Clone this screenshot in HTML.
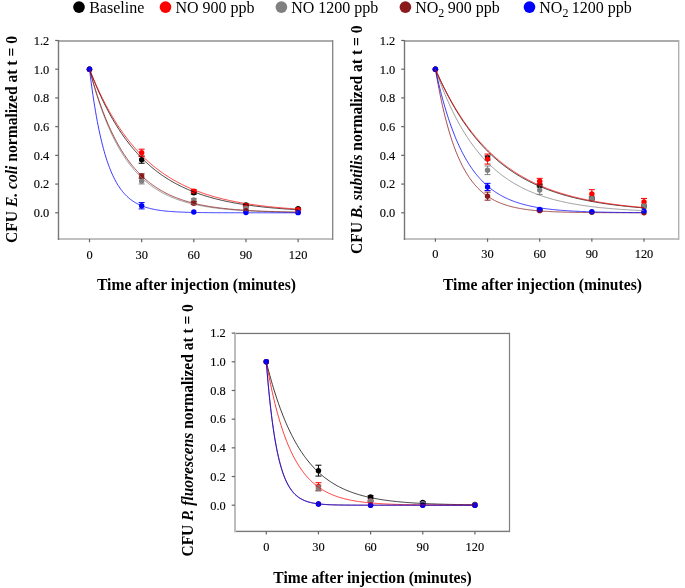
<!DOCTYPE html>
<html><head><meta charset="utf-8"><style>
html,body{margin:0;padding:0;background:#fff;}
body{width:685px;height:588px;overflow:hidden;}
svg{display:block;will-change:transform;}
text{font-family:"Liberation Serif",serif;fill:#000;}
.lg{font-size:16px;}
.tk{font-size:13.5px;fill:#000;stroke:#000;stroke-width:0.15px;}
.ti{font-size:16px;font-weight:bold;}
</style></head><body>
<svg width="685" height="588" viewBox="0 0 685 588">
<circle cx="79" cy="7.1" r="5.85" fill="#000000"/>
<text x="89.2" y="12.6" class="lg">Baseline</text>
<circle cx="165.5" cy="7.1" r="5.85" fill="#ff0000"/>
<text x="175.4" y="12.6" class="lg">NO 900 ppb</text>
<circle cx="281.4" cy="7.1" r="5.85" fill="#808080"/>
<text x="291.2" y="12.6" class="lg">NO 1200 ppb</text>
<circle cx="405.4" cy="7.1" r="5.85" fill="#8b1a1a"/>
<text x="415.2" y="12.6" class="lg">NO<tspan dy="4.2" font-size="12">2</tspan><tspan dy="-4.2" dx="-0.6"> 900 ppb</tspan></text>
<circle cx="529.5" cy="7.1" r="5.85" fill="#0000ff"/>
<text x="539.3" y="12.6" class="lg">NO<tspan dy="4.2" font-size="12">2</tspan><tspan dy="-4.2" dx="-0.6"> 1200 ppb</tspan></text>
<rect x="57.8" y="40" width="276" height="2" fill="#acacac"/>
<rect x="57.8" y="238" width="276" height="2" fill="#c0c0c0"/>
<rect x="57.8" y="40" width="1.4" height="200" fill="#787878"/>
<rect x="332" y="40" width="1" height="200" fill="#888"/>
<rect x="333" y="40" width="1" height="200" fill="#d4d4d4"/>
<line x1="55.20" y1="212.80" x2="58.50" y2="212.80" stroke="#666" stroke-width="1.2"/>
<text transform="translate(49.30,217.10) scale(0.92,1)" class="tk" text-anchor="end">0.0</text>
<line x1="55.20" y1="184.08" x2="58.50" y2="184.08" stroke="#666" stroke-width="1.2"/>
<text transform="translate(49.30,188.38) scale(0.92,1)" class="tk" text-anchor="end">0.2</text>
<line x1="55.20" y1="155.36" x2="58.50" y2="155.36" stroke="#666" stroke-width="1.2"/>
<text transform="translate(49.30,159.66) scale(0.92,1)" class="tk" text-anchor="end">0.4</text>
<line x1="55.20" y1="126.64" x2="58.50" y2="126.64" stroke="#666" stroke-width="1.2"/>
<text transform="translate(49.30,130.94) scale(0.92,1)" class="tk" text-anchor="end">0.6</text>
<line x1="55.20" y1="97.92" x2="58.50" y2="97.92" stroke="#666" stroke-width="1.2"/>
<text transform="translate(49.30,102.22) scale(0.92,1)" class="tk" text-anchor="end">0.8</text>
<line x1="55.20" y1="69.20" x2="58.50" y2="69.20" stroke="#666" stroke-width="1.2"/>
<text transform="translate(49.30,73.50) scale(0.92,1)" class="tk" text-anchor="end">1.0</text>
<line x1="55.20" y1="40.48" x2="58.50" y2="40.48" stroke="#666" stroke-width="1.2"/>
<text transform="translate(49.30,44.78) scale(0.92,1)" class="tk" text-anchor="end">1.2</text>
<line x1="89.50" y1="239.00" x2="89.50" y2="242.30" stroke="#666" stroke-width="1.2"/>
<text transform="translate(89.50,258.90) scale(0.92,1)" class="tk" text-anchor="middle">0</text>
<line x1="141.65" y1="239.00" x2="141.65" y2="242.30" stroke="#666" stroke-width="1.2"/>
<text transform="translate(141.65,258.90) scale(0.92,1)" class="tk" text-anchor="middle">30</text>
<line x1="193.80" y1="239.00" x2="193.80" y2="242.30" stroke="#666" stroke-width="1.2"/>
<text transform="translate(193.80,258.90) scale(0.92,1)" class="tk" text-anchor="middle">60</text>
<line x1="245.95" y1="239.00" x2="245.95" y2="242.30" stroke="#666" stroke-width="1.2"/>
<text transform="translate(245.95,258.90) scale(0.92,1)" class="tk" text-anchor="middle">90</text>
<line x1="298.10" y1="239.00" x2="298.10" y2="242.30" stroke="#666" stroke-width="1.2"/>
<text transform="translate(298.10,258.90) scale(0.92,1)" class="tk" text-anchor="middle">120</text>
<text x="97.0" y="289.9" class="ti" textLength="198.9" lengthAdjust="spacingAndGlyphs">Time after injection (minutes)</text>
<text transform="translate(16.6,243.0) rotate(-90)" class="ti" textLength="207.0" lengthAdjust="spacingAndGlyphs">CFU <tspan font-style="italic">E. coli</tspan> normalized at t = 0</text>
<path d="M141.65 156.08V163.26M138.65 156.08H144.65M138.65 163.26H144.65" stroke="#000000" stroke-width="1" fill="none"/>
<circle cx="141.65" cy="159.67" r="2.7" fill="#000000"/>
<path d="M193.80 191.26V194.13M190.80 191.26H196.80M190.80 194.13H196.80" stroke="#000000" stroke-width="1" fill="none"/>
<circle cx="193.80" cy="192.70" r="2.7" fill="#000000"/>
<path d="M245.95 204.04V205.76M242.95 204.04H248.95M242.95 205.76H248.95" stroke="#000000" stroke-width="1" fill="none"/>
<circle cx="245.95" cy="204.90" r="2.7" fill="#000000"/>
<path d="M298.10 208.06V209.50M295.10 208.06H301.10M295.10 209.50H301.10" stroke="#000000" stroke-width="1" fill="none"/>
<circle cx="298.10" cy="208.78" r="2.7" fill="#000000"/>
<path d="M141.65 149.19V156.37M138.65 149.19H144.65M138.65 156.37H144.65" stroke="#ff0000" stroke-width="1" fill="none"/>
<circle cx="141.65" cy="152.78" r="2.7" fill="#ff0000"/>
<path d="M193.80 189.68V192.55M190.80 189.68H196.80M190.80 192.55H196.80" stroke="#ff0000" stroke-width="1" fill="none"/>
<circle cx="193.80" cy="191.12" r="2.7" fill="#ff0000"/>
<path d="M245.95 205.33V207.06M242.95 205.33H248.95M242.95 207.06H248.95" stroke="#ff0000" stroke-width="1" fill="none"/>
<circle cx="245.95" cy="206.19" r="2.7" fill="#ff0000"/>
<path d="M298.10 208.92V210.36M295.10 208.92H301.10M295.10 210.36H301.10" stroke="#ff0000" stroke-width="1" fill="none"/>
<circle cx="298.10" cy="209.64" r="2.7" fill="#ff0000"/>
<path d="M141.65 178.19V183.94M138.65 178.19H144.65M138.65 183.94H144.65" stroke="#808080" stroke-width="1" fill="none"/>
<circle cx="141.65" cy="181.06" r="2.7" fill="#808080"/>
<path d="M193.80 198.58V201.46M190.80 198.58H196.80M190.80 201.46H196.80" stroke="#808080" stroke-width="1" fill="none"/>
<circle cx="193.80" cy="200.02" r="2.7" fill="#808080"/>
<path d="M245.95 207.34V209.07M242.95 207.34H248.95M242.95 209.07H248.95" stroke="#808080" stroke-width="1" fill="none"/>
<circle cx="245.95" cy="208.20" r="2.7" fill="#808080"/>
<circle cx="298.10" cy="212.08" r="2.7" fill="#808080"/>
<path d="M141.65 173.88V178.19M138.65 173.88H144.65M138.65 178.19H144.65" stroke="#8b1a1a" stroke-width="1" fill="none"/>
<circle cx="141.65" cy="176.04" r="2.7" fill="#8b1a1a"/>
<path d="M193.80 201.74V204.61M190.80 201.74H196.80M190.80 204.61H196.80" stroke="#8b1a1a" stroke-width="1" fill="none"/>
<circle cx="193.80" cy="203.18" r="2.7" fill="#8b1a1a"/>
<circle cx="245.95" cy="210.65" r="2.7" fill="#8b1a1a"/>
<circle cx="298.10" cy="212.37" r="2.7" fill="#8b1a1a"/>
<path d="M141.65 202.60V208.92M138.65 202.60H144.65M138.65 208.92H144.65" stroke="#0000ff" stroke-width="1" fill="none"/>
<circle cx="141.65" cy="205.76" r="2.7" fill="#0000ff"/>
<circle cx="193.80" cy="211.94" r="2.7" fill="#0000ff"/>
<circle cx="245.95" cy="212.51" r="2.7" fill="#0000ff"/>
<circle cx="298.10" cy="212.66" r="2.7" fill="#0000ff"/>
<circle cx="89.50" cy="69.20" r="2.7" fill="#000000"/>
<circle cx="89.50" cy="69.20" r="2.7" fill="#ff0000"/>
<circle cx="89.50" cy="69.20" r="2.7" fill="#808080"/>
<circle cx="89.50" cy="69.20" r="2.7" fill="#8b1a1a"/>
<circle cx="89.50" cy="69.20" r="2.7" fill="#0000ff"/>
<polyline points="89.50,69.20 90.37,72.54 91.24,75.79 92.11,78.98 92.98,82.08 93.85,85.12 94.72,88.08 95.58,90.98 96.45,93.81 97.32,96.57 98.19,99.27 99.06,101.91 99.93,104.49 100.80,107.00 101.67,109.46 102.54,111.86 103.41,114.20 104.28,116.49 105.14,118.73 106.01,120.92 106.88,123.05 107.75,125.13 108.62,127.17 109.49,129.16 110.36,131.10 111.23,133.00 112.10,134.85 112.97,136.66 113.84,138.43 114.71,140.16 115.58,141.85 116.44,143.49 117.31,145.10 118.18,146.68 119.05,148.21 119.92,149.71 120.79,151.18 121.66,152.61 122.53,154.01 123.40,155.37 124.27,156.71 125.14,158.01 126.00,159.28 126.87,160.52 127.74,161.74 128.61,162.92 129.48,164.08 130.35,165.21 131.22,166.32 132.09,167.40 132.96,168.45 133.83,169.48 134.70,170.49 135.57,171.47 136.44,172.43 137.30,173.37 138.17,174.29 139.04,175.18 139.91,176.05 140.78,176.91 141.65,177.74 142.52,178.56 143.39,179.35 144.26,180.13 145.13,180.89 146.00,181.63 146.87,182.35 147.73,183.06 148.60,183.75 149.47,184.42 150.34,185.08 151.21,185.73 152.08,186.36 152.95,186.97 153.82,187.57 154.69,188.16 155.56,188.73 156.43,189.29 157.30,189.83 158.16,190.37 159.03,190.89 159.90,191.40 160.77,191.89 161.64,192.38 162.51,192.85 163.38,193.32 164.25,193.77 165.12,194.21 165.99,194.64 166.86,195.07 167.72,195.48 168.59,195.88 169.46,196.27 170.33,196.66 171.20,197.03 172.07,197.40 172.94,197.76 173.81,198.10 174.68,198.45 175.55,198.78 176.42,199.10 177.29,199.42 178.16,199.73 179.02,200.04 179.89,200.33 180.76,200.62 181.63,200.91 182.50,201.18 183.37,201.45 184.24,201.72 185.11,201.97 185.98,202.22 186.85,202.47 187.72,202.71 188.58,202.94 189.45,203.17 190.32,203.40 191.19,203.62 192.06,203.83 192.93,204.04 193.80,204.24 194.67,204.44 195.54,204.63 196.41,204.82 197.28,205.01 198.15,205.19 199.01,205.37 199.88,205.54 200.75,205.71 201.62,205.87 202.49,206.03 203.36,206.19 204.23,206.34 205.10,206.49 205.97,206.64 206.84,206.78 207.71,206.92 208.58,207.06 209.44,207.19 210.31,207.32 211.18,207.45 212.05,207.57 212.92,207.70 213.79,207.81 214.66,207.93 215.53,208.04 216.40,208.15 217.27,208.26 218.14,208.37 219.01,208.47 219.88,208.57 220.74,208.67 221.61,208.76 222.48,208.86 223.35,208.95 224.22,209.04 225.09,209.13 225.96,209.21 226.83,209.30 227.70,209.38 228.57,209.46 229.44,209.53 230.31,209.61 231.17,209.68 232.04,209.76 232.91,209.83 233.78,209.90 234.65,209.96 235.52,210.03 236.39,210.09 237.26,210.16 238.13,210.22 239.00,210.28 239.87,210.34 240.73,210.39 241.60,210.45 242.47,210.50 243.34,210.56 244.21,210.61 245.08,210.66 245.95,210.71 246.82,210.76 247.69,210.81 248.56,210.85 249.43,210.90 250.30,210.94 251.16,210.99 252.03,211.03 252.90,211.07 253.77,211.11 254.64,211.15 255.51,211.19 256.38,211.22 257.25,211.26 258.12,211.30 258.99,211.33 259.86,211.37 260.73,211.40 261.60,211.43 262.46,211.46 263.33,211.49 264.20,211.52 265.07,211.55 265.94,211.58 266.81,211.61 267.68,211.64 268.55,211.67 269.42,211.69 270.29,211.72 271.16,211.74 272.02,211.77 272.89,211.79 273.76,211.81 274.63,211.84 275.50,211.86 276.37,211.88 277.24,211.90 278.11,211.92 278.98,211.94 279.85,211.96 280.72,211.98 281.59,212.00 282.45,212.02 283.32,212.04 284.19,212.06 285.06,212.07 285.93,212.09 286.80,212.11 287.67,212.12 288.54,212.14 289.41,212.15 290.28,212.17 291.15,212.18 292.02,212.20 292.88,212.21 293.75,212.23 294.62,212.24 295.49,212.25 296.36,212.27 297.23,212.28 298.10,212.29" fill="none" stroke="#808080" stroke-width="0.78"/>
<polyline points="89.50,69.20 90.37,72.41 91.24,75.55 92.11,78.61 92.98,81.61 93.85,84.54 94.72,87.41 95.58,90.21 96.45,92.95 97.32,95.63 98.19,98.25 99.06,100.81 99.93,103.31 100.80,105.76 101.67,108.15 102.54,110.49 103.41,112.77 104.28,115.01 105.14,117.19 106.01,119.33 106.88,121.42 107.75,123.46 108.62,125.46 109.49,127.41 110.36,129.32 111.23,131.18 112.10,133.01 112.97,134.79 113.84,136.53 114.71,138.24 115.58,139.90 116.44,141.53 117.31,143.13 118.18,144.68 119.05,146.20 119.92,147.69 120.79,149.15 121.66,150.57 122.53,151.96 123.40,153.32 124.27,154.65 125.14,155.95 126.00,157.22 126.87,158.46 127.74,159.68 128.61,160.86 129.48,162.02 130.35,163.16 131.22,164.27 132.09,165.35 132.96,166.41 133.83,167.45 134.70,168.46 135.57,169.45 136.44,170.42 137.30,171.37 138.17,172.29 139.04,173.20 139.91,174.08 140.78,174.95 141.65,175.80 142.52,176.62 143.39,177.43 144.26,178.22 145.13,178.99 146.00,179.75 146.87,180.49 147.73,181.21 148.60,181.92 149.47,182.61 150.34,183.28 151.21,183.94 152.08,184.59 152.95,185.22 153.82,185.83 154.69,186.44 155.56,187.02 156.43,187.60 157.30,188.16 158.16,188.71 159.03,189.25 159.90,189.78 160.77,190.29 161.64,190.80 162.51,191.29 163.38,191.77 164.25,192.24 165.12,192.70 165.99,193.15 166.86,193.59 167.72,194.02 168.59,194.44 169.46,194.85 170.33,195.25 171.20,195.64 172.07,196.02 172.94,196.40 173.81,196.76 174.68,197.12 175.55,197.47 176.42,197.82 177.29,198.15 178.16,198.48 179.02,198.80 179.89,199.11 180.76,199.42 181.63,199.72 182.50,200.01 183.37,200.29 184.24,200.57 185.11,200.85 185.98,201.11 186.85,201.37 187.72,201.63 188.58,201.88 189.45,202.12 190.32,202.36 191.19,202.60 192.06,202.82 192.93,203.05 193.80,203.26 194.67,203.48 195.54,203.69 196.41,203.89 197.28,204.09 198.15,204.28 199.01,204.47 199.88,204.66 200.75,204.84 201.62,205.02 202.49,205.19 203.36,205.36 204.23,205.53 205.10,205.69 205.97,205.85 206.84,206.01 207.71,206.16 208.58,206.31 209.44,206.45 210.31,206.59 211.18,206.73 212.05,206.87 212.92,207.00 213.79,207.13 214.66,207.26 215.53,207.38 216.40,207.50 217.27,207.62 218.14,207.74 219.01,207.85 219.88,207.96 220.74,208.07 221.61,208.17 222.48,208.28 223.35,208.38 224.22,208.48 225.09,208.57 225.96,208.67 226.83,208.76 227.70,208.85 228.57,208.94 229.44,209.02 230.31,209.11 231.17,209.19 232.04,209.27 232.91,209.35 233.78,209.43 234.65,209.50 235.52,209.58 236.39,209.65 237.26,209.72 238.13,209.79 239.00,209.86 239.87,209.92 240.73,209.99 241.60,210.05 242.47,210.11 243.34,210.17 244.21,210.23 245.08,210.29 245.95,210.34 246.82,210.40 247.69,210.45 248.56,210.50 249.43,210.56 250.30,210.61 251.16,210.65 252.03,210.70 252.90,210.75 253.77,210.80 254.64,210.84 255.51,210.88 256.38,210.93 257.25,210.97 258.12,211.01 258.99,211.05 259.86,211.09 260.73,211.13 261.60,211.16 262.46,211.20 263.33,211.24 264.20,211.27 265.07,211.31 265.94,211.34 266.81,211.37 267.68,211.40 268.55,211.43 269.42,211.47 270.29,211.49 271.16,211.52 272.02,211.55 272.89,211.58 273.76,211.61 274.63,211.63 275.50,211.66 276.37,211.69 277.24,211.71 278.11,211.74 278.98,211.76 279.85,211.78 280.72,211.80 281.59,211.83 282.45,211.85 283.32,211.87 284.19,211.89 285.06,211.91 285.93,211.93 286.80,211.95 287.67,211.97 288.54,211.99 289.41,212.01 290.28,212.02 291.15,212.04 292.02,212.06 292.88,212.07 293.75,212.09 294.62,212.11 295.49,212.12 296.36,212.14 297.23,212.15 298.10,212.17" fill="none" stroke="#8b1a1a" stroke-width="0.78"/>
<polyline points="89.50,69.20 90.37,71.49 91.24,73.74 92.11,75.95 92.98,78.13 93.85,80.27 94.72,82.38 95.58,84.46 96.45,86.50 97.32,88.51 98.19,90.49 99.06,92.44 99.93,94.36 100.80,96.24 101.67,98.10 102.54,99.92 103.41,101.72 104.28,103.49 105.14,105.23 106.01,106.94 106.88,108.63 107.75,110.29 108.62,111.92 109.49,113.53 110.36,115.11 111.23,116.66 112.10,118.19 112.97,119.70 113.84,121.18 114.71,122.64 115.58,124.08 116.44,125.49 117.31,126.88 118.18,128.25 119.05,129.59 119.92,130.92 120.79,132.22 121.66,133.50 122.53,134.77 123.40,136.01 124.27,137.23 125.14,138.44 126.00,139.62 126.87,140.78 127.74,141.93 128.61,143.06 129.48,144.17 130.35,145.26 131.22,146.34 132.09,147.40 132.96,148.44 133.83,149.46 134.70,150.47 135.57,151.46 136.44,152.44 137.30,153.40 138.17,154.35 139.04,155.28 139.91,156.19 140.78,157.09 141.65,157.98 142.52,158.85 143.39,159.71 144.26,160.56 145.13,161.39 146.00,162.21 146.87,163.01 147.73,163.81 148.60,164.59 149.47,165.35 150.34,166.11 151.21,166.85 152.08,167.58 152.95,168.30 153.82,169.01 154.69,169.71 155.56,170.40 156.43,171.07 157.30,171.74 158.16,172.39 159.03,173.03 159.90,173.67 160.77,174.29 161.64,174.90 162.51,175.51 163.38,176.10 164.25,176.68 165.12,177.26 165.99,177.83 166.86,178.38 167.72,178.93 168.59,179.47 169.46,180.00 170.33,180.52 171.20,181.04 172.07,181.54 172.94,182.04 173.81,182.53 174.68,183.01 175.55,183.49 176.42,183.95 177.29,184.41 178.16,184.86 179.02,185.31 179.89,185.75 180.76,186.18 181.63,186.60 182.50,187.02 183.37,187.43 184.24,187.83 185.11,188.23 185.98,188.62 186.85,189.01 187.72,189.38 188.58,189.76 189.45,190.12 190.32,190.49 191.19,190.84 192.06,191.19 192.93,191.53 193.80,191.87 194.67,192.21 195.54,192.53 196.41,192.86 197.28,193.17 198.15,193.49 199.01,193.79 199.88,194.10 200.75,194.39 201.62,194.69 202.49,194.98 203.36,195.26 204.23,195.54 205.10,195.81 205.97,196.08 206.84,196.35 207.71,196.61 208.58,196.87 209.44,197.12 210.31,197.37 211.18,197.62 212.05,197.86 212.92,198.10 213.79,198.33 214.66,198.56 215.53,198.79 216.40,199.01 217.27,199.23 218.14,199.45 219.01,199.66 219.88,199.87 220.74,200.08 221.61,200.28 222.48,200.48 223.35,200.67 224.22,200.87 225.09,201.06 225.96,201.24 226.83,201.43 227.70,201.61 228.57,201.79 229.44,201.96 230.31,202.14 231.17,202.31 232.04,202.47 232.91,202.64 233.78,202.80 234.65,202.96 235.52,203.11 236.39,203.27 237.26,203.42 238.13,203.57 239.00,203.72 239.87,203.86 240.73,204.00 241.60,204.14 242.47,204.28 243.34,204.42 244.21,204.55 245.08,204.68 245.95,204.81 246.82,204.94 247.69,205.06 248.56,205.19 249.43,205.31 250.30,205.43 251.16,205.54 252.03,205.66 252.90,205.77 253.77,205.89 254.64,206.00 255.51,206.10 256.38,206.21 257.25,206.32 258.12,206.42 258.99,206.52 259.86,206.62 260.73,206.72 261.60,206.82 262.46,206.91 263.33,207.00 264.20,207.10 265.07,207.19 265.94,207.28 266.81,207.37 267.68,207.45 268.55,207.54 269.42,207.62 270.29,207.70 271.16,207.78 272.02,207.86 272.89,207.94 273.76,208.02 274.63,208.10 275.50,208.17 276.37,208.24 277.24,208.32 278.11,208.39 278.98,208.46 279.85,208.53 280.72,208.60 281.59,208.66 282.45,208.73 283.32,208.79 284.19,208.86 285.06,208.92 285.93,208.98 286.80,209.04 287.67,209.10 288.54,209.16 289.41,209.22 290.28,209.28 291.15,209.33 292.02,209.39 292.88,209.44 293.75,209.50 294.62,209.55 295.49,209.60 296.36,209.65 297.23,209.70 298.10,209.75" fill="none" stroke="#000000" stroke-width="0.78"/>
<polyline points="89.50,69.20 90.37,71.37 91.24,73.51 92.11,75.62 92.98,77.70 93.85,79.74 94.72,81.76 95.58,83.74 96.45,85.69 97.32,87.62 98.19,89.51 99.06,91.38 99.93,93.21 100.80,95.02 101.67,96.81 102.54,98.56 103.41,100.29 104.28,101.99 105.14,103.67 106.01,105.32 106.88,106.95 107.75,108.55 108.62,110.13 109.49,111.68 110.36,113.21 111.23,114.72 112.10,116.20 112.97,117.67 113.84,119.11 114.71,120.52 115.58,121.92 116.44,123.30 117.31,124.65 118.18,125.98 119.05,127.30 119.92,128.59 120.79,129.87 121.66,131.12 122.53,132.36 123.40,133.58 124.27,134.77 125.14,135.96 126.00,137.12 126.87,138.26 127.74,139.39 128.61,140.50 129.48,141.60 130.35,142.67 131.22,143.74 132.09,144.78 132.96,145.81 133.83,146.82 134.70,147.82 135.57,148.81 136.44,149.77 137.30,150.73 138.17,151.67 139.04,152.59 139.91,153.50 140.78,154.40 141.65,155.29 142.52,156.16 143.39,157.01 144.26,157.86 145.13,158.69 146.00,159.51 146.87,160.31 147.73,161.11 148.60,161.89 149.47,162.66 150.34,163.42 151.21,164.17 152.08,164.90 152.95,165.63 153.82,166.34 154.69,167.05 155.56,167.74 156.43,168.42 157.30,169.09 158.16,169.75 159.03,170.40 159.90,171.05 160.77,171.68 161.64,172.30 162.51,172.91 163.38,173.52 164.25,174.11 165.12,174.70 165.99,175.27 166.86,175.84 167.72,176.40 168.59,176.95 169.46,177.49 170.33,178.03 171.20,178.56 172.07,179.07 172.94,179.58 173.81,180.09 174.68,180.58 175.55,181.07 176.42,181.55 177.29,182.02 178.16,182.49 179.02,182.95 179.89,183.40 180.76,183.84 181.63,184.28 182.50,184.71 183.37,185.14 184.24,185.56 185.11,185.97 185.98,186.38 186.85,186.78 187.72,187.17 188.58,187.56 189.45,187.94 190.32,188.32 191.19,188.69 192.06,189.05 192.93,189.41 193.80,189.76 194.67,190.11 195.54,190.46 196.41,190.79 197.28,191.13 198.15,191.46 199.01,191.78 199.88,192.10 200.75,192.41 201.62,192.72 202.49,193.02 203.36,193.32 204.23,193.62 205.10,193.91 205.97,194.19 206.84,194.47 207.71,194.75 208.58,195.03 209.44,195.29 210.31,195.56 211.18,195.82 212.05,196.08 212.92,196.33 213.79,196.58 214.66,196.82 215.53,197.07 216.40,197.30 217.27,197.54 218.14,197.77 219.01,198.00 219.88,198.22 220.74,198.44 221.61,198.66 222.48,198.87 223.35,199.08 224.22,199.29 225.09,199.50 225.96,199.70 226.83,199.90 227.70,200.09 228.57,200.28 229.44,200.47 230.31,200.66 231.17,200.84 232.04,201.02 232.91,201.20 233.78,201.38 234.65,201.55 235.52,201.72 236.39,201.89 237.26,202.05 238.13,202.22 239.00,202.38 239.87,202.53 240.73,202.69 241.60,202.84 242.47,202.99 243.34,203.14 244.21,203.29 245.08,203.43 245.95,203.57 246.82,203.71 247.69,203.85 248.56,203.99 249.43,204.12 250.30,204.25 251.16,204.38 252.03,204.51 252.90,204.63 253.77,204.76 254.64,204.88 255.51,205.00 256.38,205.12 257.25,205.23 258.12,205.35 258.99,205.46 259.86,205.57 260.73,205.68 261.60,205.79 262.46,205.89 263.33,206.00 264.20,206.10 265.07,206.20 265.94,206.30 266.81,206.40 267.68,206.50 268.55,206.59 269.42,206.69 270.29,206.78 271.16,206.87 272.02,206.96 272.89,207.05 273.76,207.14 274.63,207.22 275.50,207.31 276.37,207.39 277.24,207.47 278.11,207.55 278.98,207.63 279.85,207.71 280.72,207.79 281.59,207.86 282.45,207.94 283.32,208.01 284.19,208.08 285.06,208.16 285.93,208.23 286.80,208.29 287.67,208.36 288.54,208.43 289.41,208.50 290.28,208.56 291.15,208.63 292.02,208.69 292.88,208.75 293.75,208.81 294.62,208.87 295.49,208.93 296.36,208.99 297.23,209.05 298.10,209.10" fill="none" stroke="#ff0000" stroke-width="0.78"/>
<polyline points="89.50,69.20 90.37,76.24 91.24,82.93 92.11,89.29 92.98,95.35 93.85,101.10 94.72,106.58 95.58,111.78 96.45,116.73 97.32,121.44 98.19,125.92 99.06,130.18 99.93,134.23 100.80,138.08 101.67,141.74 102.54,145.22 103.41,148.53 104.28,151.68 105.14,154.68 106.01,157.53 106.88,160.24 107.75,162.81 108.62,165.26 109.49,167.59 110.36,169.81 111.23,171.91 112.10,173.92 112.97,175.82 113.84,177.64 114.71,179.36 115.58,181.00 116.44,182.56 117.31,184.04 118.18,185.45 119.05,186.79 119.92,188.06 120.79,189.28 121.66,190.43 122.53,191.53 123.40,192.57 124.27,193.56 125.14,194.50 126.00,195.40 126.87,196.25 127.74,197.06 128.61,197.83 129.48,198.57 130.35,199.26 131.22,199.93 132.09,200.56 132.96,201.16 133.83,201.73 134.70,202.27 135.57,202.79 136.44,203.28 137.30,203.75 138.17,204.19 139.04,204.61 139.91,205.01 140.78,205.39 141.65,205.76 142.52,206.10 143.39,206.43 144.26,206.74 145.13,207.04 146.00,207.32 146.87,207.59 147.73,207.85 148.60,208.09 149.47,208.32 150.34,208.54 151.21,208.75 152.08,208.95 152.95,209.14 153.82,209.31 154.69,209.49 155.56,209.65 156.43,209.80 157.30,209.95 158.16,210.09 159.03,210.22 159.90,210.35 160.77,210.47 161.64,210.58 162.51,210.69 163.38,210.79 164.25,210.89 165.12,210.99 165.99,211.08 166.86,211.16 167.72,211.24 168.59,211.32 169.46,211.39 170.33,211.46 171.20,211.52 172.07,211.59 172.94,211.65 173.81,211.70 174.68,211.76 175.55,211.81 176.42,211.86 177.29,211.90 178.16,211.95 179.02,211.99 179.89,212.03 180.76,212.07 181.63,212.10 182.50,212.14 183.37,212.17 184.24,212.20 185.11,212.23 185.98,212.26 186.85,212.28 187.72,212.31 188.58,212.33 189.45,212.36 190.32,212.38 191.19,212.40 192.06,212.42 192.93,212.44 193.80,212.45 194.67,212.47 195.54,212.49 196.41,212.50 197.28,212.52 198.15,212.53 199.01,212.54 199.88,212.56 200.75,212.57 201.62,212.58 202.49,212.59 203.36,212.60 204.23,212.61 205.10,212.62 205.97,212.63 206.84,212.64 207.71,212.65 208.58,212.65 209.44,212.66 210.31,212.67 211.18,212.67 212.05,212.68 212.92,212.69 213.79,212.69 214.66,212.70 215.53,212.70 216.40,212.71 217.27,212.71 218.14,212.72 219.01,212.72 219.88,212.72 220.74,212.73 221.61,212.73 222.48,212.73 223.35,212.74 224.22,212.74 225.09,212.74 225.96,212.75 226.83,212.75 227.70,212.75 228.57,212.75 229.44,212.76 230.31,212.76 231.17,212.76 232.04,212.76 232.91,212.76 233.78,212.77 234.65,212.77 235.52,212.77 236.39,212.77 237.26,212.77 238.13,212.77 239.00,212.77 239.87,212.78 240.73,212.78 241.60,212.78 242.47,212.78 243.34,212.78 244.21,212.78 245.08,212.78 245.95,212.78 246.82,212.78 247.69,212.78 248.56,212.79 249.43,212.79 250.30,212.79 251.16,212.79 252.03,212.79 252.90,212.79 253.77,212.79 254.64,212.79 255.51,212.79 256.38,212.79 257.25,212.79 258.12,212.79 258.99,212.79 259.86,212.79 260.73,212.79 261.60,212.79 262.46,212.79 263.33,212.79 264.20,212.79 265.07,212.79 265.94,212.79 266.81,212.79 267.68,212.80 268.55,212.80 269.42,212.80 270.29,212.80 271.16,212.80 272.02,212.80 272.89,212.80 273.76,212.80 274.63,212.80 275.50,212.80 276.37,212.80 277.24,212.80 278.11,212.80 278.98,212.80 279.85,212.80 280.72,212.80 281.59,212.80 282.45,212.80 283.32,212.80 284.19,212.80 285.06,212.80 285.93,212.80 286.80,212.80 287.67,212.80 288.54,212.80 289.41,212.80 290.28,212.80 291.15,212.80 292.02,212.80 292.88,212.80 293.75,212.80 294.62,212.80 295.49,212.80 296.36,212.80 297.23,212.80 298.10,212.80" fill="none" stroke="#0000ff" stroke-width="0.78"/>
<rect x="403.8" y="40" width="276" height="2" fill="#acacac"/>
<rect x="403.8" y="238" width="276" height="2" fill="#c2c2c2"/>
<rect x="403.8" y="40" width="1.4" height="200" fill="#777"/>
<rect x="678" y="40" width="1" height="200" fill="#b0b0b0"/>
<rect x="679" y="40" width="1" height="200" fill="#e0e0e0"/>
<line x1="401.20" y1="212.80" x2="404.50" y2="212.80" stroke="#666" stroke-width="1.2"/>
<text transform="translate(395.30,217.10) scale(0.92,1)" class="tk" text-anchor="end">0.0</text>
<line x1="401.20" y1="184.08" x2="404.50" y2="184.08" stroke="#666" stroke-width="1.2"/>
<text transform="translate(395.30,188.38) scale(0.92,1)" class="tk" text-anchor="end">0.2</text>
<line x1="401.20" y1="155.36" x2="404.50" y2="155.36" stroke="#666" stroke-width="1.2"/>
<text transform="translate(395.30,159.66) scale(0.92,1)" class="tk" text-anchor="end">0.4</text>
<line x1="401.20" y1="126.64" x2="404.50" y2="126.64" stroke="#666" stroke-width="1.2"/>
<text transform="translate(395.30,130.94) scale(0.92,1)" class="tk" text-anchor="end">0.6</text>
<line x1="401.20" y1="97.92" x2="404.50" y2="97.92" stroke="#666" stroke-width="1.2"/>
<text transform="translate(395.30,102.22) scale(0.92,1)" class="tk" text-anchor="end">0.8</text>
<line x1="401.20" y1="69.20" x2="404.50" y2="69.20" stroke="#666" stroke-width="1.2"/>
<text transform="translate(395.30,73.50) scale(0.92,1)" class="tk" text-anchor="end">1.0</text>
<line x1="401.20" y1="40.48" x2="404.50" y2="40.48" stroke="#666" stroke-width="1.2"/>
<text transform="translate(395.30,44.78) scale(0.92,1)" class="tk" text-anchor="end">1.2</text>
<line x1="435.40" y1="238.50" x2="435.40" y2="241.80" stroke="#666" stroke-width="1.2"/>
<text transform="translate(435.40,258.40) scale(0.92,1)" class="tk" text-anchor="middle">0</text>
<line x1="487.55" y1="238.50" x2="487.55" y2="241.80" stroke="#666" stroke-width="1.2"/>
<text transform="translate(487.55,258.40) scale(0.92,1)" class="tk" text-anchor="middle">30</text>
<line x1="539.70" y1="238.50" x2="539.70" y2="241.80" stroke="#666" stroke-width="1.2"/>
<text transform="translate(539.70,258.40) scale(0.92,1)" class="tk" text-anchor="middle">60</text>
<line x1="591.85" y1="238.50" x2="591.85" y2="241.80" stroke="#666" stroke-width="1.2"/>
<text transform="translate(591.85,258.40) scale(0.92,1)" class="tk" text-anchor="middle">90</text>
<line x1="644.00" y1="238.50" x2="644.00" y2="241.80" stroke="#666" stroke-width="1.2"/>
<text transform="translate(644.00,258.40) scale(0.92,1)" class="tk" text-anchor="middle">120</text>
<text x="443.0" y="289.9" class="ti" textLength="198.9" lengthAdjust="spacingAndGlyphs">Time after injection (minutes)</text>
<text transform="translate(361.9,254.0) rotate(-90)" class="ti" textLength="228.4" lengthAdjust="spacingAndGlyphs">CFU <tspan font-style="italic">B. subtilis</tspan> normalized at t = 0</text>
<path d="M487.55 155.93V159.96M484.55 155.93H490.55M484.55 159.96H490.55" stroke="#000000" stroke-width="1" fill="none"/>
<circle cx="487.55" cy="157.94" r="2.7" fill="#000000"/>
<path d="M539.70 184.08V186.95M536.70 184.08H542.70M536.70 186.95H542.70" stroke="#000000" stroke-width="1" fill="none"/>
<circle cx="539.70" cy="185.52" r="2.7" fill="#000000"/>
<path d="M591.85 197.00V199.88M588.85 197.00H594.85M588.85 199.88H594.85" stroke="#000000" stroke-width="1" fill="none"/>
<circle cx="591.85" cy="198.44" r="2.7" fill="#000000"/>
<path d="M644.00 204.90V207.77M641.00 204.90H647.00M641.00 207.77H647.00" stroke="#000000" stroke-width="1" fill="none"/>
<circle cx="644.00" cy="206.34" r="2.7" fill="#000000"/>
<path d="M487.55 154.07V164.12M484.55 154.07H490.55M484.55 164.12H490.55" stroke="#ff0000" stroke-width="1" fill="none"/>
<circle cx="487.55" cy="159.09" r="2.7" fill="#ff0000"/>
<path d="M539.70 178.34V184.08M536.70 178.34H542.70M536.70 184.08H542.70" stroke="#ff0000" stroke-width="1" fill="none"/>
<circle cx="539.70" cy="181.21" r="2.7" fill="#ff0000"/>
<path d="M591.85 189.68V198.30M588.85 189.68H594.85M588.85 198.30H594.85" stroke="#ff0000" stroke-width="1" fill="none"/>
<circle cx="591.85" cy="193.99" r="2.7" fill="#ff0000"/>
<path d="M644.00 198.44V205.62M641.00 198.44H647.00M641.00 205.62H647.00" stroke="#ff0000" stroke-width="1" fill="none"/>
<circle cx="644.00" cy="202.03" r="2.7" fill="#ff0000"/>
<path d="M487.55 165.99V174.60M484.55 165.99H490.55M484.55 174.60H490.55" stroke="#808080" stroke-width="1" fill="none"/>
<circle cx="487.55" cy="170.29" r="2.7" fill="#808080"/>
<path d="M539.70 185.80V194.42M536.70 185.80H542.70M536.70 194.42H542.70" stroke="#808080" stroke-width="1" fill="none"/>
<circle cx="539.70" cy="190.11" r="2.7" fill="#808080"/>
<path d="M591.85 197.15V200.02M588.85 197.15H594.85M588.85 200.02H594.85" stroke="#808080" stroke-width="1" fill="none"/>
<circle cx="591.85" cy="198.58" r="2.7" fill="#808080"/>
<path d="M644.00 204.61V207.49M641.00 204.61H647.00M641.00 207.49H647.00" stroke="#808080" stroke-width="1" fill="none"/>
<circle cx="644.00" cy="206.05" r="2.7" fill="#808080"/>
<path d="M487.55 192.12V200.16M484.55 192.12H490.55M484.55 200.16H490.55" stroke="#8b1a1a" stroke-width="1" fill="none"/>
<circle cx="487.55" cy="196.14" r="2.7" fill="#8b1a1a"/>
<path d="M539.70 209.93V211.36M536.70 209.93H542.70M536.70 211.36H542.70" stroke="#8b1a1a" stroke-width="1" fill="none"/>
<circle cx="539.70" cy="210.65" r="2.7" fill="#8b1a1a"/>
<circle cx="591.85" cy="212.23" r="2.7" fill="#8b1a1a"/>
<circle cx="644.00" cy="212.80" r="2.7" fill="#8b1a1a"/>
<path d="M487.55 183.36V190.54M484.55 183.36H490.55M484.55 190.54H490.55" stroke="#0000ff" stroke-width="1" fill="none"/>
<circle cx="487.55" cy="186.95" r="2.7" fill="#0000ff"/>
<path d="M539.70 208.78V210.22M536.70 208.78H542.70M536.70 210.22H542.70" stroke="#0000ff" stroke-width="1" fill="none"/>
<circle cx="539.70" cy="209.50" r="2.7" fill="#0000ff"/>
<circle cx="591.85" cy="211.65" r="2.7" fill="#0000ff"/>
<circle cx="644.00" cy="211.08" r="2.7" fill="#0000ff"/>
<circle cx="435.40" cy="69.20" r="2.7" fill="#000000"/>
<circle cx="435.40" cy="69.20" r="2.7" fill="#ff0000"/>
<circle cx="435.40" cy="69.20" r="2.7" fill="#808080"/>
<circle cx="435.40" cy="69.20" r="2.7" fill="#8b1a1a"/>
<circle cx="435.40" cy="69.20" r="2.7" fill="#0000ff"/>
<polyline points="435.40,69.20 436.27,71.69 437.14,74.14 438.01,76.54 438.88,78.91 439.75,81.23 440.61,83.51 441.48,85.76 442.35,87.96 443.22,90.13 444.09,92.25 444.96,94.35 445.83,96.40 446.70,98.42 447.57,100.40 448.44,102.35 449.31,104.27 450.18,106.15 451.04,108.00 451.91,109.82 452.78,111.61 453.65,113.36 454.52,115.09 455.39,116.78 456.26,118.45 457.13,120.08 458.00,121.69 458.87,123.27 459.74,124.83 460.61,126.35 461.47,127.85 462.34,129.33 463.21,130.77 464.08,132.20 464.95,133.60 465.82,134.97 466.69,136.32 467.56,137.65 468.43,138.95 469.30,140.23 470.17,141.49 471.04,142.73 471.90,143.94 472.77,145.14 473.64,146.31 474.51,147.46 475.38,148.60 476.25,149.71 477.12,150.81 477.99,151.88 478.86,152.94 479.73,153.98 480.60,155.00 481.47,156.00 482.33,156.99 483.20,157.95 484.07,158.91 484.94,159.84 485.81,160.76 486.68,161.66 487.55,162.55 488.42,163.42 489.29,164.28 490.16,165.12 491.03,165.95 491.90,166.76 492.76,167.56 493.63,168.34 494.50,169.11 495.37,169.87 496.24,170.62 497.11,171.35 497.98,172.07 498.85,172.77 499.72,173.47 500.59,174.15 501.46,174.82 502.33,175.48 503.19,176.13 504.06,176.76 504.93,177.39 505.80,178.00 506.67,178.61 507.54,179.20 508.41,179.78 509.28,180.36 510.15,180.92 511.02,181.47 511.89,182.01 512.76,182.55 513.62,183.07 514.49,183.59 515.36,184.10 516.23,184.59 517.10,185.08 517.97,185.56 518.84,186.04 519.71,186.50 520.58,186.96 521.45,187.41 522.32,187.85 523.19,188.28 524.05,188.70 524.92,189.12 525.79,189.53 526.66,189.94 527.53,190.33 528.40,190.72 529.27,191.11 530.14,191.48 531.01,191.85 531.88,192.22 532.75,192.57 533.62,192.92 534.49,193.27 535.35,193.61 536.22,193.94 537.09,194.27 537.96,194.59 538.83,194.90 539.70,195.22 540.57,195.52 541.44,195.82 542.31,196.11 543.18,196.40 544.05,196.69 544.91,196.97 545.78,197.24 546.65,197.51 547.52,197.78 548.39,198.04 549.26,198.29 550.13,198.55 551.00,198.79 551.87,199.04 552.74,199.28 553.61,199.51 554.48,199.74 555.35,199.97 556.21,200.19 557.08,200.41 557.95,200.62 558.82,200.83 559.69,201.04 560.56,201.25 561.43,201.45 562.30,201.64 563.17,201.84 564.04,202.03 564.91,202.21 565.77,202.40 566.64,202.58 567.51,202.76 568.38,202.93 569.25,203.10 570.12,203.27 570.99,203.43 571.86,203.60 572.73,203.76 573.60,203.91 574.47,204.07 575.34,204.22 576.20,204.37 577.07,204.51 577.94,204.66 578.81,204.80 579.68,204.94 580.55,205.07 581.42,205.21 582.29,205.34 583.16,205.47 584.03,205.60 584.90,205.72 585.77,205.84 586.63,205.97 587.50,206.08 588.37,206.20 589.24,206.31 590.11,206.43 590.98,206.54 591.85,206.65 592.72,206.75 593.59,206.86 594.46,206.96 595.33,207.06 596.20,207.16 597.06,207.26 597.93,207.36 598.80,207.45 599.67,207.54 600.54,207.63 601.41,207.72 602.28,207.81 603.15,207.90 604.02,207.98 604.89,208.07 605.76,208.15 606.63,208.23 607.50,208.31 608.36,208.39 609.23,208.46 610.10,208.54 610.97,208.61 611.84,208.69 612.71,208.76 613.58,208.83 614.45,208.90 615.32,208.96 616.19,209.03 617.06,209.10 617.92,209.16 618.79,209.22 619.66,209.29 620.53,209.35 621.40,209.41 622.27,209.46 623.14,209.52 624.01,209.58 624.88,209.64 625.75,209.69 626.62,209.74 627.49,209.80 628.36,209.85 629.22,209.90 630.09,209.95 630.96,210.00 631.83,210.05 632.70,210.10 633.57,210.14 634.44,210.19 635.31,210.23 636.18,210.28 637.05,210.32 637.92,210.37 638.78,210.41 639.65,210.45 640.52,210.49 641.39,210.53 642.26,210.57 643.13,210.61 644.00,210.65" fill="none" stroke="#808080" stroke-width="0.78"/>
<polyline points="435.40,69.20 436.27,74.28 437.14,79.18 438.01,83.90 438.88,88.46 439.75,92.86 440.61,97.10 441.48,101.19 442.35,105.13 443.22,108.94 444.09,112.61 444.96,116.16 445.83,119.57 446.70,122.87 447.57,126.05 448.44,129.12 449.31,132.08 450.18,134.93 451.04,137.68 451.91,140.34 452.78,142.90 453.65,145.37 454.52,147.76 455.39,150.06 456.26,152.28 457.13,154.42 458.00,156.48 458.87,158.47 459.74,160.39 460.61,162.25 461.47,164.03 462.34,165.76 463.21,167.42 464.08,169.03 464.95,170.57 465.82,172.07 466.69,173.51 467.56,174.90 468.43,176.24 469.30,177.53 470.17,178.78 471.04,179.98 471.90,181.14 472.77,182.26 473.64,183.34 474.51,184.38 475.38,185.39 476.25,186.36 477.12,187.29 477.99,188.19 478.86,189.06 479.73,189.90 480.60,190.71 481.47,191.49 482.33,192.25 483.20,192.97 484.07,193.67 484.94,194.35 485.81,195.00 486.68,195.63 487.55,196.24 488.42,196.82 489.29,197.39 490.16,197.93 491.03,198.46 491.90,198.97 492.76,199.46 493.63,199.93 494.50,200.38 495.37,200.82 496.24,201.25 497.11,201.65 497.98,202.05 498.85,202.43 499.72,202.80 500.59,203.15 501.46,203.49 502.33,203.82 503.19,204.14 504.06,204.44 504.93,204.74 505.80,205.02 506.67,205.30 507.54,205.56 508.41,205.82 509.28,206.07 510.15,206.31 511.02,206.53 511.89,206.76 512.76,206.97 513.62,207.18 514.49,207.37 515.36,207.57 516.23,207.75 517.10,207.93 517.97,208.10 518.84,208.27 519.71,208.43 520.58,208.58 521.45,208.73 522.32,208.88 523.19,209.02 524.05,209.15 524.92,209.28 525.79,209.40 526.66,209.52 527.53,209.64 528.40,209.75 529.27,209.86 530.14,209.96 531.01,210.06 531.88,210.16 532.75,210.25 533.62,210.34 534.49,210.43 535.35,210.51 536.22,210.59 537.09,210.67 537.96,210.75 538.83,210.82 539.70,210.89 540.57,210.96 541.44,211.02 542.31,211.09 543.18,211.15 544.05,211.20 544.91,211.26 545.78,211.32 546.65,211.37 547.52,211.42 548.39,211.47 549.26,211.51 550.13,211.56 551.00,211.60 551.87,211.65 552.74,211.69 553.61,211.73 554.48,211.76 555.35,211.80 556.21,211.84 557.08,211.87 557.95,211.90 558.82,211.93 559.69,211.97 560.56,212.00 561.43,212.02 562.30,212.05 563.17,212.08 564.04,212.10 564.91,212.13 565.77,212.15 566.64,212.17 567.51,212.20 568.38,212.22 569.25,212.24 570.12,212.26 570.99,212.28 571.86,212.30 572.73,212.31 573.60,212.33 574.47,212.35 575.34,212.36 576.20,212.38 577.07,212.39 577.94,212.41 578.81,212.42 579.68,212.44 580.55,212.45 581.42,212.46 582.29,212.47 583.16,212.48 584.03,212.50 584.90,212.51 585.77,212.52 586.63,212.53 587.50,212.54 588.37,212.55 589.24,212.55 590.11,212.56 590.98,212.57 591.85,212.58 592.72,212.59 593.59,212.60 594.46,212.60 595.33,212.61 596.20,212.62 597.06,212.62 597.93,212.63 598.80,212.63 599.67,212.64 600.54,212.65 601.41,212.65 602.28,212.66 603.15,212.66 604.02,212.67 604.89,212.67 605.76,212.68 606.63,212.68 607.50,212.68 608.36,212.69 609.23,212.69 610.10,212.70 610.97,212.70 611.84,212.70 612.71,212.71 613.58,212.71 614.45,212.71 615.32,212.72 616.19,212.72 617.06,212.72 617.92,212.73 618.79,212.73 619.66,212.73 620.53,212.73 621.40,212.74 622.27,212.74 623.14,212.74 624.01,212.74 624.88,212.74 625.75,212.75 626.62,212.75 627.49,212.75 628.36,212.75 629.22,212.75 630.09,212.75 630.96,212.76 631.83,212.76 632.70,212.76 633.57,212.76 634.44,212.76 635.31,212.76 636.18,212.76 637.05,212.77 637.92,212.77 638.78,212.77 639.65,212.77 640.52,212.77 641.39,212.77 642.26,212.77 643.13,212.77 644.00,212.77" fill="none" stroke="#8b1a1a" stroke-width="0.78"/>
<polyline points="435.40,69.20 436.27,73.17 437.14,77.02 438.01,80.77 438.88,84.42 439.75,87.96 440.61,91.41 441.48,94.76 442.35,98.02 443.22,101.19 444.09,104.27 444.96,107.27 445.83,110.18 446.70,113.01 447.57,115.77 448.44,118.45 449.31,121.05 450.18,123.59 451.04,126.05 451.91,128.45 452.78,130.77 453.65,133.04 454.52,135.24 455.39,137.38 456.26,139.47 457.13,141.49 458.00,143.46 458.87,145.37 459.74,147.24 460.61,149.05 461.47,150.81 462.34,152.52 463.21,154.18 464.08,155.80 464.95,157.37 465.82,158.91 466.69,160.39 467.56,161.84 468.43,163.25 469.30,164.62 470.17,165.95 471.04,167.24 471.90,168.50 472.77,169.72 473.64,170.91 474.51,172.07 475.38,173.19 476.25,174.29 477.12,175.35 477.99,176.38 478.86,177.39 479.73,178.37 480.60,179.32 481.47,180.24 482.33,181.14 483.20,182.01 484.07,182.86 484.94,183.69 485.81,184.50 486.68,185.28 487.55,186.04 488.42,186.78 489.29,187.49 490.16,188.19 491.03,188.87 491.90,189.53 492.76,190.18 493.63,190.80 494.50,191.41 495.37,192.00 496.24,192.57 497.11,193.13 497.98,193.67 498.85,194.20 499.72,194.72 500.59,195.22 501.46,195.70 502.33,196.17 503.19,196.63 504.06,197.08 504.93,197.51 505.80,197.93 506.67,198.35 507.54,198.74 508.41,199.13 509.28,199.51 510.15,199.88 511.02,200.23 511.89,200.58 512.76,200.92 513.62,201.25 514.49,201.57 515.36,201.88 516.23,202.18 517.10,202.47 517.97,202.76 518.84,203.03 519.71,203.30 520.58,203.56 521.45,203.82 522.32,204.07 523.19,204.31 524.05,204.54 524.92,204.77 525.79,204.99 526.66,205.21 527.53,205.42 528.40,205.62 529.27,205.82 530.14,206.01 531.01,206.20 531.88,206.38 532.75,206.56 533.62,206.73 534.49,206.90 535.35,207.06 536.22,207.22 537.09,207.37 537.96,207.52 538.83,207.67 539.70,207.81 540.57,207.95 541.44,208.08 542.31,208.21 543.18,208.34 544.05,208.46 544.91,208.58 545.78,208.70 546.65,208.81 547.52,208.92 548.39,209.03 549.26,209.13 550.13,209.24 551.00,209.33 551.87,209.43 552.74,209.52 553.61,209.61 554.48,209.70 555.35,209.79 556.21,209.87 557.08,209.95 557.95,210.03 558.82,210.11 559.69,210.18 560.56,210.25 561.43,210.32 562.30,210.39 563.17,210.46 564.04,210.52 564.91,210.59 565.77,210.65 566.64,210.71 567.51,210.76 568.38,210.82 569.25,210.87 570.12,210.93 570.99,210.98 571.86,211.03 572.73,211.08 573.60,211.13 574.47,211.17 575.34,211.22 576.20,211.26 577.07,211.30 577.94,211.34 578.81,211.39 579.68,211.42 580.55,211.46 581.42,211.50 582.29,211.54 583.16,211.57 584.03,211.60 584.90,211.64 585.77,211.67 586.63,211.70 587.50,211.73 588.37,211.76 589.24,211.79 590.11,211.82 590.98,211.84 591.85,211.87 592.72,211.90 593.59,211.92 594.46,211.95 595.33,211.97 596.20,211.99 597.06,212.01 597.93,212.04 598.80,212.06 599.67,212.08 600.54,212.10 601.41,212.12 602.28,212.14 603.15,212.15 604.02,212.17 604.89,212.19 605.76,212.21 606.63,212.22 607.50,212.24 608.36,212.25 609.23,212.27 610.10,212.28 610.97,212.30 611.84,212.31 612.71,212.33 613.58,212.34 614.45,212.35 615.32,212.36 616.19,212.38 617.06,212.39 617.92,212.40 618.79,212.41 619.66,212.42 620.53,212.43 621.40,212.44 622.27,212.45 623.14,212.46 624.01,212.47 624.88,212.48 625.75,212.49 626.62,212.50 627.49,212.51 628.36,212.51 629.22,212.52 630.09,212.53 630.96,212.54 631.83,212.54 632.70,212.55 633.57,212.56 634.44,212.56 635.31,212.57 636.18,212.58 637.05,212.58 637.92,212.59 638.78,212.60 639.65,212.60 640.52,212.61 641.39,212.61 642.26,212.62 643.13,212.62 644.00,212.63" fill="none" stroke="#0000ff" stroke-width="0.78"/>
<polyline points="435.40,69.20 436.27,71.21 437.14,73.19 438.01,75.15 438.88,77.07 439.75,78.98 440.61,80.85 441.48,82.70 442.35,84.52 443.22,86.31 444.09,88.08 444.96,89.83 445.83,91.55 446.70,93.25 447.57,94.92 448.44,96.57 449.31,98.20 450.18,99.81 451.04,101.39 451.91,102.95 452.78,104.49 453.65,106.00 454.52,107.50 455.39,108.97 456.26,110.43 457.13,111.86 458.00,113.27 458.87,114.67 459.74,116.04 460.61,117.39 461.47,118.73 462.34,120.05 463.21,121.35 464.08,122.63 464.95,123.89 465.82,125.13 466.69,126.36 467.56,127.57 468.43,128.77 469.30,129.94 470.17,131.10 471.04,132.25 471.90,133.37 472.77,134.49 473.64,135.58 474.51,136.66 475.38,137.73 476.25,138.78 477.12,139.82 477.99,140.84 478.86,141.85 479.73,142.84 480.60,143.82 481.47,144.78 482.33,145.74 483.20,146.68 484.07,147.60 484.94,148.51 485.81,149.41 486.68,150.30 487.55,151.18 488.42,152.04 489.29,152.89 490.16,153.73 491.03,154.56 491.90,155.37 492.76,156.18 493.63,156.97 494.50,157.75 495.37,158.52 496.24,159.28 497.11,160.03 497.98,160.77 498.85,161.50 499.72,162.22 500.59,162.92 501.46,163.62 502.33,164.31 503.19,164.99 504.06,165.66 504.93,166.32 505.80,166.97 506.67,167.61 507.54,168.24 508.41,168.87 509.28,169.48 510.15,170.09 511.02,170.69 511.89,171.28 512.76,171.86 513.62,172.43 514.49,173.00 515.36,173.55 516.23,174.10 517.10,174.65 517.97,175.18 518.84,175.71 519.71,176.23 520.58,176.74 521.45,177.24 522.32,177.74 523.19,178.23 524.05,178.72 524.92,179.19 525.79,179.66 526.66,180.13 527.53,180.59 528.40,181.04 529.27,181.48 530.14,181.92 531.01,182.35 531.88,182.78 532.75,183.20 533.62,183.61 534.49,184.02 535.35,184.42 536.22,184.82 537.09,185.21 537.96,185.60 538.83,185.98 539.70,186.36 540.57,186.73 541.44,187.09 542.31,187.45 543.18,187.81 544.05,188.16 544.91,188.50 545.78,188.84 546.65,189.18 547.52,189.51 548.39,189.83 549.26,190.16 550.13,190.47 551.00,190.78 551.87,191.09 552.74,191.40 553.61,191.70 554.48,191.99 555.35,192.28 556.21,192.57 557.08,192.85 557.95,193.13 558.82,193.41 559.69,193.68 560.56,193.95 561.43,194.21 562.30,194.47 563.17,194.73 564.04,194.98 564.91,195.23 565.77,195.48 566.64,195.72 567.51,195.96 568.38,196.19 569.25,196.43 570.12,196.66 570.99,196.88 571.86,197.11 572.73,197.32 573.60,197.54 574.47,197.76 575.34,197.97 576.20,198.17 577.07,198.38 577.94,198.58 578.81,198.78 579.68,198.98 580.55,199.17 581.42,199.36 582.29,199.55 583.16,199.73 584.03,199.92 584.90,200.10 585.77,200.27 586.63,200.45 587.50,200.62 588.37,200.79 589.24,200.96 590.11,201.13 590.98,201.29 591.85,201.45 592.72,201.61 593.59,201.77 594.46,201.92 595.33,202.07 596.20,202.22 597.06,202.37 597.93,202.52 598.80,202.66 599.67,202.80 600.54,202.94 601.41,203.08 602.28,203.22 603.15,203.35 604.02,203.48 604.89,203.62 605.76,203.74 606.63,203.87 607.50,204.00 608.36,204.12 609.23,204.24 610.10,204.36 610.97,204.48 611.84,204.60 612.71,204.71 613.58,204.82 614.45,204.93 615.32,205.05 616.19,205.15 617.06,205.26 617.92,205.37 618.79,205.47 619.66,205.57 620.53,205.67 621.40,205.77 622.27,205.87 623.14,205.97 624.01,206.06 624.88,206.16 625.75,206.25 626.62,206.34 627.49,206.43 628.36,206.52 629.22,206.61 630.09,206.70 630.96,206.78 631.83,206.87 632.70,206.95 633.57,207.03 634.44,207.11 635.31,207.19 636.18,207.27 637.05,207.35 637.92,207.43 638.78,207.50 639.65,207.57 640.52,207.65 641.39,207.72 642.26,207.79 643.13,207.86 644.00,207.93" fill="none" stroke="#000000" stroke-width="0.78"/>
<polyline points="435.40,69.20 436.27,71.17 437.14,73.11 438.01,75.02 438.88,76.91 439.75,78.77 440.61,80.61 441.48,82.42 442.35,84.21 443.22,85.97 444.09,87.71 444.96,89.42 445.83,91.12 446.70,92.78 447.57,94.43 448.44,96.05 449.31,97.65 450.18,99.23 451.04,100.79 451.91,102.32 452.78,103.83 453.65,105.33 454.52,106.80 455.39,108.25 456.26,109.69 457.13,111.10 458.00,112.49 458.87,113.87 459.74,115.22 460.61,116.56 461.47,117.88 462.34,119.18 463.21,120.46 464.08,121.73 464.95,122.98 465.82,124.21 466.69,125.42 467.56,126.62 468.43,127.80 469.30,128.97 470.17,130.12 471.04,131.25 471.90,132.37 472.77,133.47 473.64,134.56 474.51,135.63 475.38,136.69 476.25,137.73 477.12,138.76 477.99,139.77 478.86,140.77 479.73,141.76 480.60,142.73 481.47,143.69 482.33,144.64 483.20,145.58 484.07,146.50 484.94,147.41 485.81,148.30 486.68,149.19 487.55,150.06 488.42,150.92 489.29,151.77 490.16,152.60 491.03,153.43 491.90,154.24 492.76,155.04 493.63,155.84 494.50,156.62 495.37,157.39 496.24,158.15 497.11,158.89 497.98,159.63 498.85,160.36 499.72,161.08 500.59,161.79 501.46,162.49 502.33,163.18 503.19,163.86 504.06,164.53 504.93,165.19 505.80,165.84 506.67,166.49 507.54,167.12 508.41,167.75 509.28,168.36 510.15,168.97 511.02,169.57 511.89,170.17 512.76,170.75 513.62,171.33 514.49,171.90 515.36,172.46 516.23,173.01 517.10,173.55 517.97,174.09 518.84,174.62 519.71,175.15 520.58,175.66 521.45,176.17 522.32,176.67 523.19,177.17 524.05,177.66 524.92,178.14 525.79,178.61 526.66,179.08 527.53,179.54 528.40,180.00 529.27,180.45 530.14,180.89 531.01,181.33 531.88,181.76 532.75,182.19 533.62,182.61 534.49,183.02 535.35,183.43 536.22,183.83 537.09,184.23 537.96,184.62 538.83,185.01 539.70,185.39 540.57,185.76 541.44,186.13 542.31,186.50 543.18,186.86 544.05,187.21 544.91,187.57 545.78,187.91 546.65,188.25 547.52,188.59 548.39,188.92 549.26,189.25 550.13,189.57 551.00,189.89 551.87,190.20 552.74,190.51 553.61,190.82 554.48,191.12 555.35,191.42 556.21,191.71 557.08,192.00 557.95,192.28 558.82,192.56 559.69,192.84 560.56,193.12 561.43,193.39 562.30,193.65 563.17,193.91 564.04,194.17 564.91,194.43 565.77,194.68 566.64,194.93 567.51,195.17 568.38,195.41 569.25,195.65 570.12,195.89 570.99,196.12 571.86,196.35 572.73,196.57 573.60,196.80 574.47,197.02 575.34,197.23 576.20,197.45 577.07,197.66 577.94,197.86 578.81,198.07 579.68,198.27 580.55,198.47 581.42,198.67 582.29,198.86 583.16,199.05 584.03,199.24 584.90,199.42 585.77,199.61 586.63,199.79 587.50,199.97 588.37,200.14 589.24,200.32 590.11,200.49 590.98,200.66 591.85,200.82 592.72,200.99 593.59,201.15 594.46,201.31 595.33,201.47 596.20,201.62 597.06,201.77 597.93,201.93 598.80,202.07 599.67,202.22 600.54,202.37 601.41,202.51 602.28,202.65 603.15,202.79 604.02,202.93 604.89,203.06 605.76,203.20 606.63,203.33 607.50,203.46 608.36,203.59 609.23,203.71 610.10,203.84 610.97,203.96 611.84,204.08 612.71,204.20 613.58,204.32 614.45,204.43 615.32,204.55 616.19,204.66 617.06,204.77 617.92,204.88 618.79,204.99 619.66,205.10 620.53,205.20 621.40,205.31 622.27,205.41 623.14,205.51 624.01,205.61 624.88,205.71 625.75,205.81 626.62,205.90 627.49,206.00 628.36,206.09 629.22,206.18 630.09,206.27 630.96,206.36 631.83,206.45 632.70,206.54 633.57,206.62 634.44,206.71 635.31,206.79 636.18,206.87 637.05,206.96 637.92,207.04 638.78,207.11 639.65,207.19 640.52,207.27 641.39,207.35 642.26,207.42 643.13,207.49 644.00,207.57" fill="none" stroke="#ff0000" stroke-width="0.78"/>
<rect x="234" y="332.8" width="276" height="1.3" fill="#777"/>
<rect x="234" y="530.7" width="276" height="1.4" fill="#7a7a7a"/>
<rect x="234" y="332.8" width="2" height="199.3" fill="#bdbdbd"/>
<rect x="508.9" y="332.8" width="1.2" height="199.3" fill="#7f7f7f"/>
<line x1="231.70" y1="505.20" x2="235.00" y2="505.20" stroke="#666" stroke-width="1.2"/>
<text transform="translate(225.80,509.50) scale(0.92,1)" class="tk" text-anchor="end">0.0</text>
<line x1="231.70" y1="476.52" x2="235.00" y2="476.52" stroke="#666" stroke-width="1.2"/>
<text transform="translate(225.80,480.82) scale(0.92,1)" class="tk" text-anchor="end">0.2</text>
<line x1="231.70" y1="447.84" x2="235.00" y2="447.84" stroke="#666" stroke-width="1.2"/>
<text transform="translate(225.80,452.14) scale(0.92,1)" class="tk" text-anchor="end">0.4</text>
<line x1="231.70" y1="419.16" x2="235.00" y2="419.16" stroke="#666" stroke-width="1.2"/>
<text transform="translate(225.80,423.46) scale(0.92,1)" class="tk" text-anchor="end">0.6</text>
<line x1="231.70" y1="390.48" x2="235.00" y2="390.48" stroke="#666" stroke-width="1.2"/>
<text transform="translate(225.80,394.78) scale(0.92,1)" class="tk" text-anchor="end">0.8</text>
<line x1="231.70" y1="361.80" x2="235.00" y2="361.80" stroke="#666" stroke-width="1.2"/>
<text transform="translate(225.80,366.10) scale(0.92,1)" class="tk" text-anchor="end">1.0</text>
<line x1="231.70" y1="333.12" x2="235.00" y2="333.12" stroke="#666" stroke-width="1.2"/>
<text transform="translate(225.80,337.42) scale(0.92,1)" class="tk" text-anchor="end">1.2</text>
<line x1="266.30" y1="531.10" x2="266.30" y2="534.40" stroke="#666" stroke-width="1.2"/>
<text transform="translate(266.30,551.00) scale(0.92,1)" class="tk" text-anchor="middle">0</text>
<line x1="318.45" y1="531.10" x2="318.45" y2="534.40" stroke="#666" stroke-width="1.2"/>
<text transform="translate(318.45,551.00) scale(0.92,1)" class="tk" text-anchor="middle">30</text>
<line x1="370.60" y1="531.10" x2="370.60" y2="534.40" stroke="#666" stroke-width="1.2"/>
<text transform="translate(370.60,551.00) scale(0.92,1)" class="tk" text-anchor="middle">60</text>
<line x1="422.75" y1="531.10" x2="422.75" y2="534.40" stroke="#666" stroke-width="1.2"/>
<text transform="translate(422.75,551.00) scale(0.92,1)" class="tk" text-anchor="middle">90</text>
<line x1="474.90" y1="531.10" x2="474.90" y2="534.40" stroke="#666" stroke-width="1.2"/>
<text transform="translate(474.90,551.00) scale(0.92,1)" class="tk" text-anchor="middle">120</text>
<text x="273.3" y="583.0" class="ti" textLength="198.4" lengthAdjust="spacingAndGlyphs">Time after injection (minutes)</text>
<text transform="translate(193.4,556.5) rotate(-90)" class="ti" textLength="252.3" lengthAdjust="spacingAndGlyphs">CFU <tspan font-style="italic">P. fluorescens</tspan> normalized at t = 0</text>
<path d="M318.45 465.19V476.09M315.45 465.19H321.45M315.45 476.09H321.45" stroke="#000000" stroke-width="1" fill="none"/>
<circle cx="318.45" cy="470.64" r="2.7" fill="#000000"/>
<path d="M370.60 495.74V498.03M367.60 495.74H373.60M367.60 498.03H373.60" stroke="#000000" stroke-width="1" fill="none"/>
<circle cx="370.60" cy="496.88" r="2.7" fill="#000000"/>
<path d="M422.75 501.62V503.05M419.75 501.62H425.75M419.75 503.05H425.75" stroke="#000000" stroke-width="1" fill="none"/>
<circle cx="422.75" cy="502.33" r="2.7" fill="#000000"/>
<circle cx="474.90" cy="504.48" r="2.7" fill="#000000"/>
<path d="M318.45 482.69V490.43M315.45 482.69H321.45M315.45 490.43H321.45" stroke="#ff0000" stroke-width="1" fill="none"/>
<circle cx="318.45" cy="486.56" r="2.7" fill="#ff0000"/>
<path d="M370.60 500.18V501.62M367.60 500.18H373.60M367.60 501.62H373.60" stroke="#ff0000" stroke-width="1" fill="none"/>
<circle cx="370.60" cy="500.90" r="2.7" fill="#ff0000"/>
<circle cx="422.75" cy="504.48" r="2.7" fill="#ff0000"/>
<circle cx="474.90" cy="504.91" r="2.7" fill="#ff0000"/>
<path d="M318.45 485.27V491.00M315.45 485.27H321.45M315.45 491.00H321.45" stroke="#808080" stroke-width="1" fill="none"/>
<circle cx="318.45" cy="488.14" r="2.7" fill="#808080"/>
<path d="M370.60 500.18V501.62M367.60 500.18H373.60M367.60 501.62H373.60" stroke="#808080" stroke-width="1" fill="none"/>
<circle cx="370.60" cy="500.90" r="2.7" fill="#808080"/>
<circle cx="422.75" cy="503.77" r="2.7" fill="#808080"/>
<circle cx="474.90" cy="504.91" r="2.7" fill="#808080"/>
<circle cx="318.45" cy="504.05" r="2.7" fill="#8b1a1a"/>
<circle cx="370.60" cy="505.20" r="2.7" fill="#8b1a1a"/>
<circle cx="422.75" cy="505.20" r="2.7" fill="#8b1a1a"/>
<circle cx="474.90" cy="505.20" r="2.7" fill="#8b1a1a"/>
<circle cx="318.45" cy="504.05" r="2.7" fill="#0000ff"/>
<circle cx="370.60" cy="505.20" r="2.7" fill="#0000ff"/>
<circle cx="422.75" cy="505.20" r="2.7" fill="#0000ff"/>
<circle cx="474.90" cy="505.20" r="2.7" fill="#0000ff"/>
<circle cx="266.30" cy="361.80" r="2.7" fill="#000000"/>
<circle cx="266.30" cy="361.80" r="2.7" fill="#ff0000"/>
<circle cx="266.30" cy="361.80" r="2.7" fill="#808080"/>
<circle cx="266.30" cy="361.80" r="2.7" fill="#8b1a1a"/>
<circle cx="266.30" cy="361.80" r="2.7" fill="#0000ff"/>
<polyline points="266.30,361.80 267.17,365.27 268.04,368.66 268.91,371.96 269.78,375.19 270.65,378.33 271.51,381.40 272.38,384.40 273.25,387.32 274.12,390.18 274.99,392.96 275.86,395.68 276.73,398.33 277.60,400.91 278.47,403.44 279.34,405.90 280.21,408.30 281.08,410.65 281.94,412.94 282.81,415.17 283.68,417.35 284.55,419.48 285.42,421.55 286.29,423.57 287.16,425.55 288.03,427.48 288.90,429.36 289.77,431.19 290.64,432.99 291.51,434.73 292.38,436.44 293.24,438.10 294.11,439.73 294.98,441.31 295.85,442.86 296.72,444.37 297.59,445.84 298.46,447.28 299.33,448.68 300.20,450.05 301.07,451.38 301.94,452.68 302.81,453.95 303.67,455.19 304.54,456.40 305.41,457.59 306.28,458.74 307.15,459.86 308.02,460.96 308.89,462.03 309.76,463.08 310.63,464.09 311.50,465.09 312.37,466.06 313.24,467.01 314.10,467.93 314.97,468.83 315.84,469.71 316.71,470.57 317.58,471.41 318.45,472.23 319.32,473.03 320.19,473.81 321.06,474.57 321.93,475.31 322.80,476.03 323.67,476.74 324.53,477.42 325.40,478.10 326.27,478.75 327.14,479.39 328.01,480.02 328.88,480.63 329.75,481.22 330.62,481.80 331.49,482.37 332.36,482.92 333.23,483.46 334.10,483.99 334.96,484.50 335.83,485.00 336.70,485.49 337.57,485.97 338.44,486.43 339.31,486.89 340.18,487.33 341.05,487.76 341.92,488.18 342.79,488.60 343.66,489.00 344.52,489.39 345.39,489.77 346.26,490.15 347.13,490.51 348.00,490.87 348.87,491.21 349.74,491.55 350.61,491.88 351.48,492.20 352.35,492.52 353.22,492.83 354.09,493.12 354.96,493.42 355.82,493.70 356.69,493.98 357.56,494.25 358.43,494.52 359.30,494.78 360.17,495.03 361.04,495.27 361.91,495.51 362.78,495.75 363.65,495.98 364.52,496.20 365.38,496.42 366.25,496.63 367.12,496.84 367.99,497.04 368.86,497.24 369.73,497.43 370.60,497.62 371.47,497.80 372.34,497.98 373.21,498.16 374.08,498.33 374.95,498.49 375.81,498.66 376.68,498.81 377.55,498.97 378.42,499.12 379.29,499.27 380.16,499.41 381.03,499.55 381.90,499.69 382.77,499.82 383.64,499.95 384.51,500.08 385.38,500.20 386.25,500.32 387.11,500.44 387.98,500.56 388.85,500.67 389.72,500.78 390.59,500.88 391.46,500.99 392.33,501.09 393.20,501.19 394.07,501.29 394.94,501.38 395.81,501.47 396.68,501.56 397.54,501.65 398.41,501.74 399.28,501.82 400.15,501.90 401.02,501.98 401.89,502.06 402.76,502.14 403.63,502.21 404.50,502.28 405.37,502.35 406.24,502.42 407.11,502.49 407.97,502.56 408.84,502.62 409.71,502.68 410.58,502.74 411.45,502.80 412.32,502.86 413.19,502.92 414.06,502.97 414.93,503.03 415.80,503.08 416.67,503.13 417.53,503.18 418.40,503.23 419.27,503.28 420.14,503.32 421.01,503.37 421.88,503.41 422.75,503.46 423.62,503.50 424.49,503.54 425.36,503.58 426.23,503.62 427.10,503.66 427.97,503.70 428.83,503.73 429.70,503.77 430.57,503.80 431.44,503.84 432.31,503.87 433.18,503.90 434.05,503.93 434.92,503.96 435.79,503.99 436.66,504.02 437.53,504.05 438.39,504.08 439.26,504.11 440.13,504.13 441.00,504.16 441.87,504.18 442.74,504.21 443.61,504.23 444.48,504.26 445.35,504.28 446.22,504.30 447.09,504.32 447.96,504.34 448.83,504.36 449.69,504.38 450.56,504.40 451.43,504.42 452.30,504.44 453.17,504.46 454.04,504.48 454.91,504.50 455.78,504.51 456.65,504.53 457.52,504.55 458.39,504.56 459.25,504.58 460.12,504.59 460.99,504.61 461.86,504.62 462.73,504.64 463.60,504.65 464.47,504.66 465.34,504.68 466.21,504.69 467.08,504.70 467.95,504.71 468.82,504.72 469.69,504.74 470.55,504.75 471.42,504.76 472.29,504.77 473.16,504.78 474.03,504.79 474.90,504.80" fill="none" stroke="#000000" stroke-width="0.78"/>
<polyline points="266.30,361.80 267.17,366.66 268.04,371.36 268.91,375.90 269.78,380.28 270.65,384.52 271.51,388.61 272.38,392.57 273.25,396.39 274.12,400.08 274.99,403.64 275.86,407.09 276.73,410.41 277.60,413.63 278.47,416.73 279.34,419.73 280.21,422.63 281.08,425.43 281.94,428.14 282.81,430.75 283.68,433.27 284.55,435.71 285.42,438.07 286.29,440.35 287.16,442.55 288.03,444.67 288.90,446.72 289.77,448.71 290.64,450.62 291.51,452.47 292.38,454.26 293.24,455.99 294.11,457.66 294.98,459.27 295.85,460.83 296.72,462.33 297.59,463.79 298.46,465.19 299.33,466.55 300.20,467.86 301.07,469.12 301.94,470.35 302.81,471.53 303.67,472.67 304.54,473.77 305.41,474.84 306.28,475.87 307.15,476.86 308.02,477.82 308.89,478.75 309.76,479.65 310.63,480.52 311.50,481.35 312.37,482.16 313.24,482.94 314.10,483.70 314.97,484.43 315.84,485.13 316.71,485.81 317.58,486.47 318.45,487.10 319.32,487.72 320.19,488.31 321.06,488.88 321.93,489.44 322.80,489.97 323.67,490.49 324.53,490.99 325.40,491.47 326.27,491.93 327.14,492.38 328.01,492.82 328.88,493.24 329.75,493.64 330.62,494.04 331.49,494.42 332.36,494.78 333.23,495.13 334.10,495.48 334.96,495.81 335.83,496.12 336.70,496.43 337.57,496.73 338.44,497.02 339.31,497.29 340.18,497.56 341.05,497.82 341.92,498.07 342.79,498.31 343.66,498.55 344.52,498.77 345.39,498.99 346.26,499.20 347.13,499.40 348.00,499.60 348.87,499.79 349.74,499.97 350.61,500.15 351.48,500.32 352.35,500.49 353.22,500.65 354.09,500.80 354.96,500.95 355.82,501.10 356.69,501.23 357.56,501.37 358.43,501.50 359.30,501.62 360.17,501.75 361.04,501.86 361.91,501.98 362.78,502.09 363.65,502.19 364.52,502.29 365.38,502.39 366.25,502.49 367.12,502.58 367.99,502.67 368.86,502.75 369.73,502.84 370.60,502.92 371.47,502.99 372.34,503.07 373.21,503.14 374.08,503.21 374.95,503.28 375.81,503.34 376.68,503.41 377.55,503.47 378.42,503.53 379.29,503.58 380.16,503.64 381.03,503.69 381.90,503.74 382.77,503.79 383.64,503.84 384.51,503.89 385.38,503.93 386.25,503.97 387.11,504.01 387.98,504.05 388.85,504.09 389.72,504.13 390.59,504.17 391.46,504.20 392.33,504.24 393.20,504.27 394.07,504.30 394.94,504.33 395.81,504.36 396.68,504.39 397.54,504.42 398.41,504.44 399.28,504.47 400.15,504.49 401.02,504.52 401.89,504.54 402.76,504.56 403.63,504.58 404.50,504.61 405.37,504.63 406.24,504.65 407.11,504.66 407.97,504.68 408.84,504.70 409.71,504.72 410.58,504.73 411.45,504.75 412.32,504.76 413.19,504.78 414.06,504.79 414.93,504.81 415.80,504.82 416.67,504.83 417.53,504.85 418.40,504.86 419.27,504.87 420.14,504.88 421.01,504.89 421.88,504.90 422.75,504.91 423.62,504.92 424.49,504.93 425.36,504.94 426.23,504.95 427.10,504.96 427.97,504.97 428.83,504.97 429.70,504.98 430.57,504.99 431.44,505.00 432.31,505.00 433.18,505.01 434.05,505.02 434.92,505.02 435.79,505.03 436.66,505.03 437.53,505.04 438.39,505.05 439.26,505.05 440.13,505.06 441.00,505.06 441.87,505.07 442.74,505.07 443.61,505.07 444.48,505.08 445.35,505.08 446.22,505.09 447.09,505.09 447.96,505.09 448.83,505.10 449.69,505.10 450.56,505.10 451.43,505.11 452.30,505.11 453.17,505.11 454.04,505.12 454.91,505.12 455.78,505.12 456.65,505.12 457.52,505.13 458.39,505.13 459.25,505.13 460.12,505.13 460.99,505.14 461.86,505.14 462.73,505.14 463.60,505.14 464.47,505.14 465.34,505.15 466.21,505.15 467.08,505.15 467.95,505.15 468.82,505.15 469.69,505.16 470.55,505.16 471.42,505.16 472.29,505.16 473.16,505.16 474.03,505.16 474.90,505.16" fill="none" stroke="#ff0000" stroke-width="0.78"/>
<polyline points="266.30,361.80 267.17,372.49 268.04,382.39 268.91,391.55 269.78,400.02 270.65,407.87 271.51,415.13 272.38,421.84 273.25,428.06 274.12,433.81 274.99,439.14 275.86,444.06 276.73,448.62 277.60,452.84 278.47,456.74 279.34,460.36 280.21,463.70 281.08,466.80 281.94,469.66 282.81,472.31 283.68,474.76 284.55,477.03 285.42,479.13 286.29,481.08 287.16,482.88 288.03,484.54 288.90,486.08 289.77,487.51 290.64,488.83 291.51,490.05 292.38,491.18 293.24,492.22 294.11,493.19 294.98,494.09 295.85,494.92 296.72,495.68 297.59,496.39 298.46,497.05 299.33,497.66 300.20,498.22 301.07,498.74 301.94,499.22 302.81,499.67 303.67,500.08 304.54,500.46 305.41,500.82 306.28,501.14 307.15,501.44 308.02,501.72 308.89,501.98 309.76,502.22 310.63,502.45 311.50,502.65 312.37,502.84 313.24,503.02 314.10,503.18 314.97,503.33 315.84,503.47 316.71,503.60 317.58,503.72 318.45,503.83 319.32,503.93 320.19,504.03 321.06,504.11 321.93,504.19 322.80,504.27 323.67,504.34 324.53,504.40 325.40,504.46 326.27,504.52 327.14,504.57 328.01,504.62 328.88,504.66 329.75,504.70 330.62,504.74 331.49,504.77 332.36,504.80 333.23,504.83 334.10,504.86 334.96,504.89 335.83,504.91 336.70,504.93 337.57,504.95 338.44,504.97 339.31,504.99 340.18,505.00 341.05,505.02 341.92,505.03 342.79,505.04 343.66,505.06 344.52,505.07 345.39,505.08 346.26,505.09 347.13,505.09 348.00,505.10 348.87,505.11 349.74,505.12 350.61,505.12 351.48,505.13 352.35,505.13 353.22,505.14 354.09,505.14 354.96,505.15 355.82,505.15 356.69,505.15 357.56,505.16 358.43,505.16 359.30,505.16 360.17,505.17 361.04,505.17 361.91,505.17 362.78,505.17 363.65,505.18 364.52,505.18 365.38,505.18 366.25,505.18 367.12,505.18 367.99,505.18 368.86,505.18 369.73,505.19 370.60,505.19 371.47,505.19 372.34,505.19 373.21,505.19 374.08,505.19 374.95,505.19 375.81,505.19 376.68,505.19 377.55,505.19 378.42,505.19 379.29,505.19 380.16,505.19 381.03,505.19 381.90,505.20 382.77,505.20 383.64,505.20 384.51,505.20 385.38,505.20 386.25,505.20 387.11,505.20 387.98,505.20 388.85,505.20 389.72,505.20 390.59,505.20 391.46,505.20 392.33,505.20 393.20,505.20 394.07,505.20 394.94,505.20 395.81,505.20 396.68,505.20 397.54,505.20 398.41,505.20 399.28,505.20 400.15,505.20 401.02,505.20 401.89,505.20 402.76,505.20 403.63,505.20 404.50,505.20 405.37,505.20 406.24,505.20 407.11,505.20 407.97,505.20 408.84,505.20 409.71,505.20 410.58,505.20 411.45,505.20 412.32,505.20 413.19,505.20 414.06,505.20 414.93,505.20 415.80,505.20 416.67,505.20 417.53,505.20 418.40,505.20 419.27,505.20 420.14,505.20 421.01,505.20 421.88,505.20 422.75,505.20 423.62,505.20 424.49,505.20 425.36,505.20 426.23,505.20 427.10,505.20 427.97,505.20 428.83,505.20 429.70,505.20 430.57,505.20 431.44,505.20 432.31,505.20 433.18,505.20 434.05,505.20 434.92,505.20 435.79,505.20 436.66,505.20 437.53,505.20 438.39,505.20 439.26,505.20 440.13,505.20 441.00,505.20 441.87,505.20 442.74,505.20 443.61,505.20 444.48,505.20 445.35,505.20 446.22,505.20 447.09,505.20 447.96,505.20 448.83,505.20 449.69,505.20 450.56,505.20 451.43,505.20 452.30,505.20 453.17,505.20 454.04,505.20 454.91,505.20 455.78,505.20 456.65,505.20 457.52,505.20 458.39,505.20 459.25,505.20 460.12,505.20 460.99,505.20 461.86,505.20 462.73,505.20 463.60,505.20 464.47,505.20 465.34,505.20 466.21,505.20 467.08,505.20 467.95,505.20 468.82,505.20 469.69,505.20 470.55,505.20 471.42,505.20 472.29,505.20 473.16,505.20 474.03,505.20 474.90,505.20" fill="none" stroke="#8b1a1a" stroke-width="0.78"/>
<polyline points="266.30,361.80 267.17,372.63 268.04,382.64 268.91,391.89 269.78,400.44 270.65,408.35 271.51,415.66 272.38,422.42 273.25,428.67 274.12,434.45 274.99,439.79 275.86,444.73 276.73,449.30 277.60,453.52 278.47,457.42 279.34,461.03 280.21,464.36 281.08,467.44 281.94,470.29 282.81,472.93 283.68,475.37 284.55,477.62 285.42,479.70 286.29,481.63 287.16,483.41 288.03,485.05 288.90,486.57 289.77,487.98 290.64,489.28 291.51,490.48 292.38,491.59 293.24,492.62 294.11,493.57 294.98,494.45 295.85,495.26 296.72,496.01 297.59,496.70 298.46,497.35 299.33,497.94 300.20,498.49 301.07,498.99 301.94,499.46 302.81,499.90 303.67,500.30 304.54,500.67 305.41,501.01 306.28,501.32 307.15,501.62 308.02,501.89 308.89,502.14 309.76,502.37 310.63,502.58 311.50,502.78 312.37,502.96 313.24,503.13 314.10,503.29 314.97,503.43 315.84,503.57 316.71,503.69 317.58,503.80 318.45,503.91 319.32,504.01 320.19,504.10 321.06,504.18 321.93,504.26 322.80,504.33 323.67,504.39 324.53,504.45 325.40,504.51 326.27,504.56 327.14,504.61 328.01,504.66 328.88,504.70 329.75,504.73 330.62,504.77 331.49,504.80 332.36,504.83 333.23,504.86 334.10,504.89 334.96,504.91 335.83,504.93 336.70,504.95 337.57,504.97 338.44,504.99 339.31,505.00 340.18,505.02 341.05,505.03 341.92,505.04 342.79,505.06 343.66,505.07 344.52,505.08 345.39,505.09 346.26,505.10 347.13,505.10 348.00,505.11 348.87,505.12 349.74,505.12 350.61,505.13 351.48,505.13 352.35,505.14 353.22,505.14 354.09,505.15 354.96,505.15 355.82,505.16 356.69,505.16 357.56,505.16 358.43,505.17 359.30,505.17 360.17,505.17 361.04,505.17 361.91,505.17 362.78,505.18 363.65,505.18 364.52,505.18 365.38,505.18 366.25,505.18 367.12,505.18 367.99,505.19 368.86,505.19 369.73,505.19 370.60,505.19 371.47,505.19 372.34,505.19 373.21,505.19 374.08,505.19 374.95,505.19 375.81,505.19 376.68,505.19 377.55,505.19 378.42,505.19 379.29,505.19 380.16,505.20 381.03,505.20 381.90,505.20 382.77,505.20 383.64,505.20 384.51,505.20 385.38,505.20 386.25,505.20 387.11,505.20 387.98,505.20 388.85,505.20 389.72,505.20 390.59,505.20 391.46,505.20 392.33,505.20 393.20,505.20 394.07,505.20 394.94,505.20 395.81,505.20 396.68,505.20 397.54,505.20 398.41,505.20 399.28,505.20 400.15,505.20 401.02,505.20 401.89,505.20 402.76,505.20 403.63,505.20 404.50,505.20 405.37,505.20 406.24,505.20 407.11,505.20 407.97,505.20 408.84,505.20 409.71,505.20 410.58,505.20 411.45,505.20 412.32,505.20 413.19,505.20 414.06,505.20 414.93,505.20 415.80,505.20 416.67,505.20 417.53,505.20 418.40,505.20 419.27,505.20 420.14,505.20 421.01,505.20 421.88,505.20 422.75,505.20 423.62,505.20 424.49,505.20 425.36,505.20 426.23,505.20 427.10,505.20 427.97,505.20 428.83,505.20 429.70,505.20 430.57,505.20 431.44,505.20 432.31,505.20 433.18,505.20 434.05,505.20 434.92,505.20 435.79,505.20 436.66,505.20 437.53,505.20 438.39,505.20 439.26,505.20 440.13,505.20 441.00,505.20 441.87,505.20 442.74,505.20 443.61,505.20 444.48,505.20 445.35,505.20 446.22,505.20 447.09,505.20 447.96,505.20 448.83,505.20 449.69,505.20 450.56,505.20 451.43,505.20 452.30,505.20 453.17,505.20 454.04,505.20 454.91,505.20 455.78,505.20 456.65,505.20 457.52,505.20 458.39,505.20 459.25,505.20 460.12,505.20 460.99,505.20 461.86,505.20 462.73,505.20 463.60,505.20 464.47,505.20 465.34,505.20 466.21,505.20 467.08,505.20 467.95,505.20 468.82,505.20 469.69,505.20 470.55,505.20 471.42,505.20 472.29,505.20 473.16,505.20 474.03,505.20 474.90,505.20" fill="none" stroke="#0000ff" stroke-width="0.78"/>
</svg>
</body></html>
